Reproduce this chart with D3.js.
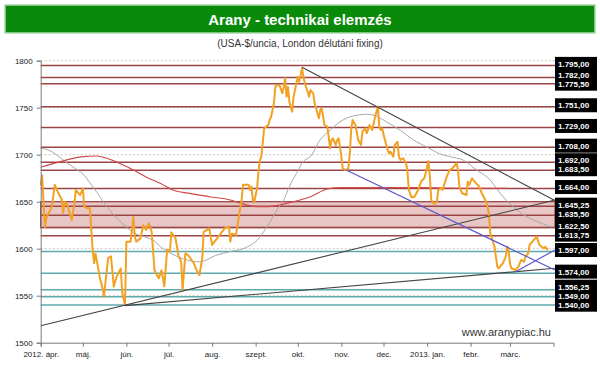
<!DOCTYPE html>
<html>
<head>
<meta charset="utf-8">
<script src="https://cdn.jsdelivr.net/npm/d3@7"></script>
<style>
  body { margin: 0; background: #fff; }
  svg { display: block; font-family: "Liberation Sans", Arial, sans-serif; }
</style>
</head>
<body>
<div id="chart"></div>
<script>
// ---- data ----
const goldDates = [
  "2012-04-01","2012-04-02","2012-04-04","2012-04-05","2012-04-09","2012-04-11","2012-04-13","2012-04-16","2012-04-17","2012-04-18","2012-04-20","2012-04-23","2012-04-25","2012-04-26","2012-04-29",
  "2012-05-01","2012-05-02","2012-05-04","2012-05-06","2012-05-07","2012-05-08","2012-05-09","2012-05-10","2012-05-13","2012-05-15","2012-05-16","2012-05-19","2012-05-21","2012-05-22","2012-05-23","2012-05-25","2012-05-28","2012-05-29","2012-05-31",
  "2012-06-01","2012-06-04","2012-06-06","2012-06-07","2012-06-08","2012-06-11","2012-06-13","2012-06-15","2012-06-17","2012-06-19","2012-06-21","2012-06-24","2012-06-26","2012-06-28","2012-06-30",
  "2012-07-02","2012-07-03","2012-07-06","2012-07-08","2012-07-10","2012-07-11","2012-07-13","2012-07-15","2012-07-19","2012-07-21","2012-07-23","2012-07-25","2012-07-26","2012-07-30",
  "2012-08-01","2012-08-10","2012-08-13","2012-08-14","2012-08-15","2012-08-18","2012-08-20","2012-08-22","2012-08-23","2012-08-27","2012-08-28","2012-08-29","2012-08-30","2012-08-31",
  "2012-09-02","2012-09-03","2012-09-04","2012-09-05","2012-09-06","2012-09-07","2012-09-10","2012-09-11","2012-09-12","2012-09-14","2012-09-15","2012-09-16","2012-09-18","2012-09-20","2012-09-21","2012-09-22","2012-09-23","2012-09-24","2012-09-25","2012-09-27","2012-09-28","2012-09-29","2012-09-30",
  "2012-10-01","2012-10-02","2012-10-04","2012-10-05","2012-10-06","2012-10-08","2012-10-09","2012-10-10","2012-10-12","2012-10-13","2012-10-16","2012-10-17","2012-10-18","2012-10-20","2012-10-22","2012-10-23","2012-10-24","2012-10-25","2012-10-26","2012-10-28","2012-10-29","2012-10-30","2012-10-31",
  "2012-11-01","2012-11-02","2012-11-04","2012-11-06","2012-11-07","2012-11-08","2012-11-09","2012-11-11","2012-11-13","2012-11-15","2012-11-16","2012-11-18","2012-11-19","2012-11-20","2012-11-21","2012-11-23","2012-11-25","2012-11-27","2012-11-28","2012-11-29","2012-11-30",
  "2012-12-02","2012-12-03","2012-12-04","2012-12-05","2012-12-06","2012-12-08","2012-12-09","2012-12-11","2012-12-12","2012-12-13","2012-12-15","2012-12-17","2012-12-18","2012-12-19","2012-12-21","2012-12-23","2012-12-25","2012-12-28","2012-12-30","2012-12-31",
  "2013-01-02","2013-01-03","2013-01-04","2013-01-06","2013-01-08","2013-01-09","2013-01-11","2013-01-12","2013-01-15","2013-01-17","2013-01-19","2013-01-22","2013-01-23","2013-01-24","2013-01-26","2013-01-29","2013-01-30","2013-01-31",
  "2013-02-02","2013-02-05","2013-02-07","2013-02-09","2013-02-12","2013-02-13","2013-02-14","2013-02-15","2013-02-18","2013-02-20","2013-02-21","2013-02-24","2013-02-26","2013-02-27","2013-02-28",
  "2013-03-01","2013-03-02","2013-03-05","2013-03-07","2013-03-09","2013-03-11","2013-03-12","2013-03-14","2013-03-15","2013-03-18","2013-03-20","2013-03-22","2013-03-25","2013-03-26","2013-03-28"
];
const goldPrices = [
  1667,1678,1623,1633,1645,1668,1661,1652,1638,1650,1646.5,1630.5,1648,1662.5,1657,
  1664,1645,1643,1643,1620,1598.6,1584.5,1595,1570,1558,1549,1590,1592,1577,1559.6,1570,1579,1554,1540,
  1607.5,1607.5,1634,1613,1607.5,1611,1625,1620,1627,1618,1577,1568.5,1577,1560,1599,
  1597,1617.5,1611,1593,1586,1556,1595,1593,1584.5,1577,1572,1590,1618,1621.7,
  1604,1621.7,1623.4,1607.5,1616,1614.6,1634,1652,1668,1668,1662.5,1666,1652,1650,
  1664,1682,1694,1698,1712,1728,1731.6,1737,1740.4,1754.7,1772.3,1774,1774,1765.3,1772.3,1781.3,1761.7,1772,1756.4,1745.7,1761.7,1768.8,1776,
  1783,1777.7,1792,1783,1776,1767,1761.7,1768.8,1765.3,1754.7,1738.7,1747.6,1749.4,1731.6,1729.8,1719,1706.8,1715.6,1717.5,1710.3,1715.6,1717.5,1708.5,
  1697.9,1685.5,1683.7,1685.5,1701.5,1726.3,1736.9,1731.6,1715.6,1710.3,1724.5,1728.1,1722.8,1726.3,1731.6,1726.3,1740.4,1751,1729.8,1726.3,1728.1,
  1715.6,1710.3,1705,1701.5,1703.2,1697.9,1710.3,1713.8,1697.9,1694.4,1696.2,1690.9,1683.7,1662.5,1654.5,1655.3,1660.6,1672,1674.9,1680.2,
  1693.3,1676.6,1651.8,1647.6,1650,1662.5,1664.6,1662.5,1676.6,1683.7,1685.5,1690.9,1683.7,1666,1659,1657.1,1671.3,1667.8,
  1674.9,1669.6,1666,1659,1650,1644.7,1637.7,1616.4,1602.1,1580.9,1579.2,1584.5,1591.5,1602.1,1598.6,
  1584.5,1579.2,1577.3,1580.9,1588,1586.2,1591.5,1595.1,1604,1609.3,1612.8,1604,1600.4,1602.1,1598.6
];

// 50-day moving average (grey)
const ma50Dates = ["2012-04-01","2012-04-08","2012-04-13","2012-04-19","2012-04-26","2012-05-02","2012-05-06","2012-05-11","2012-05-16","2012-05-20","2012-05-27","2012-06-01","2012-06-06","2012-06-13","2012-06-20","2012-06-27","2012-07-04","2012-07-14","2012-07-23","2012-08-04","2012-08-14","2012-08-23","2012-09-02","2012-09-09","2012-09-16","2012-09-21","2012-09-25","2012-09-30","2012-10-05","2012-10-10","2012-10-17","2012-10-24","2012-10-31","2012-11-09","2012-11-19","2012-11-26","2012-12-03","2012-12-13","2012-12-22","2013-01-01","2013-01-10","2013-01-17","2013-01-27","2013-02-05","2013-02-15","2013-02-22","2013-03-03","2013-03-13","2013-03-20","2013-03-27","2013-03-30"];
const ma50Values = [1707,1704,1699,1692,1685,1678,1670,1660,1649,1641,1630,1623,1617,1613,1609,1600,1594,1588,1586,1593,1597,1600,1609,1623,1641,1652,1666,1680,1693,1698,1716,1726,1735,1741,1743,1741,1735,1726,1716,1708,1701,1698,1694,1684,1673,1659,1645,1634,1629,1625,1623];

// 200-day moving average (red)
const ma200Dates = ["2012-04-01","2012-04-15","2012-05-01","2012-05-11","2012-05-18","2012-05-27","2012-06-06","2012-06-15","2012-06-25","2012-07-04","2012-07-16","2012-07-30","2012-08-14","2012-08-23","2012-09-02","2012-09-09","2012-09-18","2012-09-28","2012-10-10","2012-10-22","2012-10-31","2012-11-28","2012-12-27","2013-01-31","2013-02-27"];
const ma200Values = [1686.6,1692.6,1697.9,1698.6,1696.2,1690.9,1683.7,1676.3,1669.6,1662.5,1658.9,1655.3,1651.8,1647.6,1644.7,1644.7,1646.5,1650,1655.3,1663.5,1664.9,1664.9,1664.9,1664.3,1664.3];

// horizontal levels
const resistanceLevels = [1795, 1782, 1775.5, 1751, 1729, 1708, 1692, 1683.5, 1664, 1645.25, 1635.5, 1622.5, 1613.75];
const supportLevels = [1597, 1574, 1556.25, 1549, 1540];
const resistanceBand = [1622.5, 1650];

// trend lines: [start date, start price, end date, end price]
const blackTrends = [
  ["2012-04-01", 1518, "2013-04-02", 1651.8],
  ["2012-05-31", 1539.4, "2013-04-02", 1579.2],
  ["2012-10-04", 1793, "2013-04-02", 1651.3]
];
const blueTrends = [
  ["2012-11-04", 1684, "2013-04-02", 1577.3],
  ["2013-03-05", 1575.5, "2013-04-02", 1598.6]
];

const yTicks = [1500, 1550, 1600, 1650, 1700, 1750, 1800];
const monthLabels = ["2012. ápr.", "máj.", "jún.", "júl.", "aug.", "szept.", "okt.", "nov.", "dec.", "2013. jan.", "febr.", "márc."];

// ---- setup ----
const width = 600, height = 372;
const parse = d3.timeParse("%Y-%m-%d");
const huFormat = d3.formatLocale({decimal: ",", thousands: ".", grouping: [3], currency: ["", ""]}).format(",.2f");

const svg = d3.select("#chart").append("svg")
    .attr("width", width)
    .attr("height", height);

const x = d3.scaleTime()
    .domain([parse("2012-04-01"), parse("2013-04-01")])
    .range([40.7, 553.5]);
const y = d3.scaleLinear()
    .domain([1500, 1800])
    .range([342.7, 60.7]);
const xLeft = 40.7, xRight = 555;

// title bar
svg.append("rect")
    .attr("x", 5).attr("y", 5).attr("width", 590).attr("height", 28)
    .style("fill", "#0a8a0a").style("stroke", "#a8d8a8").style("stroke-width", 1.5);
svg.append("text")
    .attr("x", 300).attr("y", 24.5)
    .attr("text-anchor", "middle")
    .style("fill", "#fff").style("font-size", "15px").style("font-weight", "bold")
    .text("Arany - technikai elemzés");
svg.append("text")
    .attr("x", 300).attr("y", 47)
    .attr("text-anchor", "middle")
    .style("fill", "#333").style("font-size", "10px")
    .text("(USA-$/uncia, London délutáni fixing)");

const plot = svg.append("g");

// dashed grid
plot.selectAll("line.grid")
    .data(yTicks.slice(1))
    .join("line")
    .classed("grid", true)
    .attr("x1", xLeft).attr("x2", xRight)
    .attr("y1", d => y(d)).attr("y2", d => y(d))
    .style("stroke", "#c8c8c8").style("stroke-dasharray", "2,2");

// pink resistance band
plot.append("rect")
    .attr("x", xLeft).attr("width", xRight - xLeft)
    .attr("y", y(resistanceBand[1]))
    .attr("height", y(resistanceBand[0]) - y(resistanceBand[1]))
    .style("fill", "#e8c6c6").style("stroke", "#9a4545").style("stroke-width", 1.3);

// level lines
plot.selectAll("line.res")
    .data(resistanceLevels)
    .join("line")
    .classed("res", true)
    .attr("x1", xLeft).attr("x2", xRight)
    .attr("y1", d => y(d)).attr("y2", d => y(d))
    .style("stroke", "#9a4545").style("stroke-width", 1.5);
plot.selectAll("line.sup")
    .data(supportLevels)
    .join("line")
    .classed("sup", true)
    .attr("x1", xLeft).attr("x2", xRight)
    .attr("y1", d => y(d)).attr("y2", d => y(d))
    .style("stroke", "#5ea9ad").style("stroke-width", 1.5);

// moving averages
const line = d3.line().x(d => x(d[0])).y(d => y(d[1]));
plot.append("path")
    .datum(ma50Dates.map((d, i) => [parse(d), ma50Values[i]]))
    .attr("d", line.curve(d3.curveMonotoneX))
    .style("fill", "none").style("stroke", "#a8a8a8").style("stroke-width", 1);
plot.append("path")
    .datum(ma200Dates.map((d, i) => [parse(d), ma200Values[i]]))
    .attr("d", line.curve(d3.curveMonotoneX))
    .style("fill", "none").style("stroke", "#d04848").style("stroke-width", 1.2);

// gold price
plot.append("path")
    .datum(goldDates.map((d, i) => [parse(d), goldPrices[i]]))
    .attr("d", line.curve(d3.curveLinear))
    .style("fill", "none").style("stroke", "#f2a122").style("stroke-width", 2)
    .style("stroke-linejoin", "round");

// trend lines
plot.selectAll("line.trend")
    .data(blackTrends)
    .join("line")
    .classed("trend", true)
    .attr("x1", d => x(parse(d[0]))).attr("y1", d => y(d[1]))
    .attr("x2", d => x(parse(d[2]))).attr("y2", d => y(d[3]))
    .style("stroke", "#444").style("stroke-width", 1.1);
plot.selectAll("line.btrend")
    .data(blueTrends)
    .join("line")
    .classed("btrend", true)
    .attr("x1", d => x(parse(d[0]))).attr("y1", d => y(d[1]))
    .attr("x2", d => x(parse(d[2]))).attr("y2", d => y(d[3]))
    .style("stroke", "#5a5ad0").style("stroke-width", 1.2);

// axes
const yAxis = svg.append("g")
    .attr("transform", `translate(${xLeft},0)`)
    .call(d3.axisLeft(y).tickValues(yTicks).tickSize(4).tickPadding(4).tickFormat(d3.format("d")));
const xAxis = svg.append("g")
    .attr("transform", `translate(0,${y(1500)})`)
    .call(d3.axisBottom(x)
        .tickValues(d3.timeMonth.range(parse("2012-04-01"), parse("2013-04-01")))
        .tickSize(4).tickPadding(5)
        .tickFormat((d, i) => monthLabels[i]));
[yAxis, xAxis].forEach(a => {
    a.select(".domain").style("stroke", "#7a7a7a");
    a.selectAll(".tick line").style("stroke", "#7a7a7a");
    a.selectAll("text").style("font-size", "8px").style("fill", "#222")
        .style("font-family", "'Liberation Sans', Arial, sans-serif");
});

// right-hand level labels, spread apart where they collide
const levels = resistanceLevels.concat(supportLevels);
const labelY = levels.map(d => y(d) - 1.5);
for (let k = 0; k < 40; k++) {
    for (let i = 1; i < labelY.length; i++) {
        const gap = labelY[i] - labelY[i - 1];
        if (gap < 9) {
            const push = (9 - gap) / 2;
            labelY[i - 1] -= push;
            labelY[i] += push;
        }
    }
}
const labels = svg.append("g");
labels.selectAll("rect")
    .data(levels)
    .join("rect")
    .attr("x", 555).attr("width", 42)
    .attr("y", (d, i) => labelY[i] - 7).attr("height", 14)
    .style("fill", "#000");
labels.selectAll("text")
    .data(levels)
    .join("text")
    .attr("x", 558)
    .attr("y", (d, i) => labelY[i] + 3)
    .text(d => huFormat(d))
    .style("fill", "#fff").style("font-size", "8px").style("font-weight", "bold");

// source
svg.append("text")
    .attr("x", 551).attr("y", 336)
    .attr("text-anchor", "end")
    .style("fill", "#333").style("font-size", "11px")
    .text("www.aranypiac.hu");
</script>
</body>
</html>
